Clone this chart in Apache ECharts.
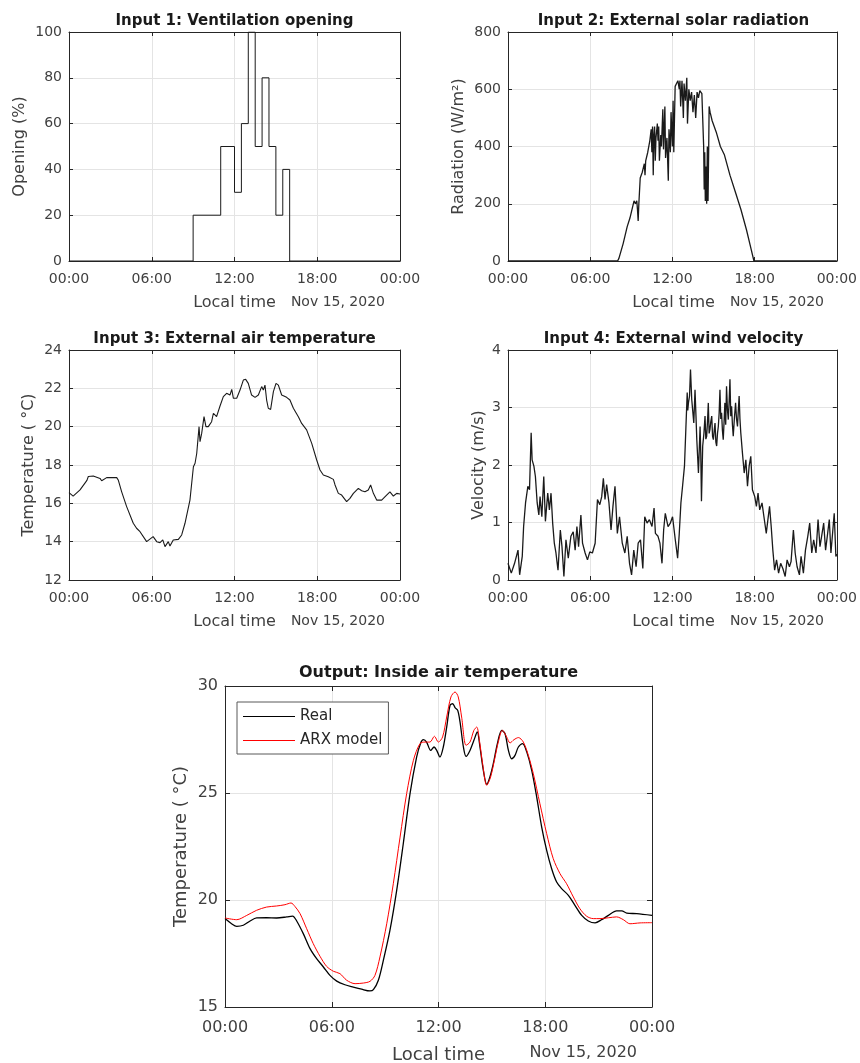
<!DOCTYPE html>
<html>
<head>
<meta charset="utf-8">
<script src="https://cdn.jsdelivr.net/npm/echarts@6/dist/echarts.min.js"></script>
<style>html,body{margin:0;padding:0;background:#fff}#c{width:860px;height:1063px}</style>
</head>
<body>
<div id="c"></div>
<script>
// ---------- DATA (hours of day, values) ----------
const xTicks = ['00:00', '06:00', '12:00', '18:00', '00:00'];

const ventHours   = [0, 9, 11, 12, 12.5, 13, 13.5, 14, 14.5, 15, 15.5, 16, 24];
const ventOpening = [0, 20, 50, 30, 60, 100, 50, 80, 50, 20, 40, 0, 0];

const radiation = [
  [0,0],[8.0,0],[8.1,10],[8.4,60],[8.7,120],[8.9,150],[9.0,145],[9.1,190],[9.2,210],[9.3,200],
  [9.4,210],[9.45,180],[9.5,140],[9.55,200],[9.65,290],[9.8,310],[9.95,340],[10.0,300],[10.05,350],
  [10.2,380],[10.35,420],[10.45,460],[10.5,380],[10.55,470],[10.6,300],[10.65,440],[10.7,470],
  [10.75,350],[10.8,430],[10.9,480],[10.95,420],[11.0,470],[11.05,350],[11.15,440],[11.2,400],
  [11.3,530],[11.35,390],[11.45,540],[11.5,360],[11.6,430],[11.7,280],[11.75,460],[11.85,380],
  [11.9,520],[12.0,400],[12.05,560],[12.1,380],[12.2,610],[12.3,620],[12.4,630],[12.5,600],
  [12.55,630],[12.6,540],[12.7,630],[12.8,500],[12.85,620],[12.95,560],[13.05,640],[13.1,480],
  [13.2,600],[13.3,560],[13.4,590],[13.5,520],[13.6,580],[13.7,500],[13.8,590],[13.9,570],
  [14.0,595],[14.15,585],[14.25,580],[14.28,400],[14.32,250],[14.36,380],[14.4,210],[14.45,330],
  [14.5,200],[14.55,400],[14.6,210],[14.65,400],[14.68,540],[14.75,520],[14.9,490],[15.2,450],
  [15.5,400],[15.8,370],[16.2,300],[16.6,240],[17.0,180],[17.4,110],[17.7,50],[17.95,0],[24,0]
];

const extTemp = [
  [0,16.56],[0.3,16.38],[0.8,16.7],[1.3,17.2],[1.4,17.4],[1.76,17.43],[2.25,17.3],[2.37,17.18],
  [2.73,17.34],[3.46,17.34],[3.58,17.2],[3.82,16.6],[4.18,15.83],[4.66,14.96],[4.9,14.7],
  [5.15,14.52],[5.63,14.0],[6.1,14.26],[6.2,14.26],[6.36,14.0],[6.6,13.95],[6.8,14.09],[6.96,13.74],
  [7.2,14.0],[7.32,13.77],[7.56,14.09],[7.93,14.12],[8.17,14.35],[8.41,14.96],[8.77,16.17],
  [9.02,17.91],[9.14,18.09],[9.26,18.6],[9.43,20.0],[9.5,19.22],[9.62,19.65],[9.79,20.52],
  [9.93,20.0],[10.1,20.0],[10.34,20.26],[10.47,20.7],[10.7,20.52],[10.95,21.08],[11.19,21.57],
  [11.43,21.74],[11.67,21.65],[11.8,21.95],[11.92,21.48],[12.16,21.48],[12.4,21.91],[12.64,22.43],
  [12.81,22.47],[13.0,22.26],[13.24,21.65],[13.49,21.53],[13.73,21.65],[13.97,22.09],[14.09,21.91],
  [14.21,22.17],[14.33,21.39],[14.45,20.96],[14.62,20.9],[14.82,21.83],[15.01,22.26],[15.18,22.17],
  [15.42,21.65],[15.78,21.53],[16.02,21.39],[16.27,20.96],[16.63,20.52],[16.87,20.17],[17.23,19.83],
  [17.6,19.13],[17.96,18.26],[18.2,17.74],[18.44,17.48],[18.8,17.39],[19.17,17.25],[19.29,16.96],
  [19.53,16.52],[19.77,16.43],[20.13,16.09],[20.37,16.26],[20.62,16.52],[20.98,16.78],[21.22,16.66],
  [21.46,16.6],[21.7,16.7],[21.87,16.96],[22.07,16.52],[22.31,16.17],[22.67,16.17],[23.03,16.43],
  [23.27,16.6],[23.52,16.38],[23.76,16.52],[24,16.49]
];

const windVel = [
  [0,0.29],[0.24,0.12],[0.48,0.29],[0.73,0.52],[0.85,0.09],[1.04,0.41],[1.14,0.93],[1.28,1.34],
  [1.45,1.63],[1.57,1.57],[1.69,2.56],[1.76,2.09],[1.89,1.98],[2.0,1.8],[2.13,1.34],[2.25,1.13],
  [2.34,1.45],[2.47,1.10],[2.61,1.80],[2.73,1.02],[2.9,1.51],[3.02,1.22],[3.14,1.51],[3.26,0.99],
  [3.38,0.64],[3.5,0.47],[3.65,0.17],[3.82,0.87],[3.94,0.58],[4.08,0.06],[4.23,0.70],[4.4,0.38],
  [4.59,0.76],[4.76,0.84],[4.9,0.52],[5.03,0.93],[5.15,0.58],[5.32,1.13],[5.44,0.64],[5.63,0.47],
  [5.8,0.35],[5.97,0.49],[6.16,0.47],[6.36,0.64],[6.53,1.40],[6.7,1.31],[6.84,1.45],[6.96,1.77],
  [7.08,1.40],[7.2,1.66],[7.37,1.34],[7.52,0.87],[7.66,1.28],[7.81,1.63],[7.98,0.81],[8.14,1.10],
  [8.34,0.64],[8.53,0.47],[8.7,0.76],[8.87,0.29],[9.02,0.09],[9.18,0.52],[9.35,0.23],[9.5,0.64],
  [9.67,0.70],[9.84,0.20],[9.98,1.10],[10.15,0.99],[10.32,1.05],[10.51,0.93],[10.66,1.25],
  [10.76,0.81],[10.95,0.76],[11.09,0.64],[11.24,0.29],[11.36,0.87],[11.48,1.16],[11.68,0.93],
  [11.85,0.99],[12.01,1.10],[12.21,0.70],[12.38,0.38],[12.5,0.81],[12.62,1.34],[12.74,1.63],
  [12.88,1.98],[12.98,2.62],[13.08,3.26],[13.12,2.95],[13.17,3.08],[13.25,3.2],[13.32,3.66],[13.41,3.14],
  [13.48,2.95],[13.56,2.73],[13.65,3.31],[13.72,2.85],[13.78,2.44],[13.84,2.15],[13.9,1.86],[14.02,2.67],
  [14.07,2.2],[14.12,1.37],[14.21,2.33],[14.3,2.55],[14.38,2.85],[14.44,2.45],[14.5,2.5],[14.56,2.75],
  [14.62,3.08],[14.68,2.55],[14.74,2.62],[14.8,2.75],[14.87,2.85],[14.93,2.5],[14.99,2.44],
  [15.05,2.6],[15.11,2.73],[15.17,2.4],[15.23,2.33],[15.29,2.55],[15.35,2.67],[15.41,2.9],
  [15.47,3.31],[15.53,2.8],[15.59,2.91],[15.65,2.6],[15.71,2.44],[15.77,2.75],[15.83,3.08],
  [15.89,2.7],[15.95,3.37],[16.02,2.95],[16.08,2.79],[16.14,3.1],[16.2,3.49],[16.26,2.85],
  [16.32,3.02],[16.38,2.7],[16.44,2.5],[16.52,2.8],[16.61,3.08],[16.68,2.8],[16.75,2.67],
  [16.81,2.95],[16.87,3.2],[16.93,2.8],[16.99,2.56],
  [17.11,2.21],[17.24,1.86],[17.36,2.09],[17.48,1.63],[17.6,1.98],[17.72,2.15],[17.84,1.57],
  [18.01,1.45],[18.13,1.28],[18.25,1.51],[18.37,1.22],[18.54,1.34],[18.68,1.10],[18.85,0.81],
  [18.97,1.05],[19.09,1.28],[19.21,0.93],[19.33,0.52],[19.46,0.17],[19.6,0.35],[19.75,0.12],
  [19.9,0.29],[20.06,0.20],[20.23,0.06],[20.37,0.35],[20.54,0.23],[20.66,0.32],[20.83,0.87],
  [20.96,0.47],[21.1,0.23],[21.27,0.09],[21.39,0.41],[21.56,0.12],[21.71,0.52],[21.88,0.76],
  [22.02,0.99],[22.17,0.47],[22.31,0.70],[22.48,0.47],[22.63,1.05],[22.77,0.58],[22.89,0.76],
  [23.04,0.99],[23.18,0.52],[23.33,0.81],[23.45,1.05],[23.57,0.47],[23.71,0.87],[23.81,1.16],
  [23.93,0.41],[24,0.45]
];

const insideReal = [
  [0,19.13],[0.37,18.89],[0.66,18.77],[1.03,18.82],[1.41,19.02],[1.78,19.16],[2.34,19.17],[2.9,19.16],
  [3.47,19.21],[3.8,19.25],[4.03,19.02],[4.4,18.43],[4.78,17.73],[5.15,17.26],[5.53,16.87],[5.9,16.48],
  [6.28,16.21],[6.74,16.04],[7.21,15.93],[7.68,15.83],[8.15,15.75],[8.34,15.81],[8.62,16.25],
  [8.9,17.18],[9.27,18.58],[9.65,20.45],[10.02,22.63],[10.4,24.97],[10.77,26.68],[11.0,27.34],
  [11.15,27.49],[11.33,27.38],[11.56,26.99],[11.75,27.15],[11.9,26.99],[12.08,26.68],[12.27,27.15],
  [12.46,28.08],[12.65,29.1],[12.8,29.17],[12.93,28.99],[13.08,28.86],[13.21,28.32],[13.4,27.15],
  [13.55,26.71],[13.77,26.99],[13.99,27.46],[14.18,27.85],[14.33,27.15],[14.52,26.06],[14.71,25.4],
  [14.89,25.75],[15.08,26.37],[15.31,27.31],[15.55,27.93],[15.74,27.77],[15.93,26.99],[16.11,26.6],
  [16.3,26.76],[16.49,27.15],[16.73,27.31],[16.96,26.92],[17.24,26.06],[17.52,24.81],[17.8,23.41],
  [18.08,22.32],[18.36,21.46],[18.64,20.84],[18.92,20.53],[19.3,20.22],[19.67,19.75],[20.05,19.28],
  [20.42,19.02],[20.8,18.93],[21.17,19.08],[21.55,19.28],[22.01,19.49],[22.3,19.49],[22.58,19.39],
  [23.14,19.36],[24,19.28]
];

const insideModel = [
  [0,19.16],[0.66,19.08],[1.22,19.28],[1.78,19.52],[2.34,19.67],[2.9,19.72],[3.37,19.78],[3.71,19.86],
  [3.93,19.7],[4.22,19.36],[4.59,18.66],[4.96,17.96],[5.34,17.37],[5.71,16.9],[6.09,16.67],[6.46,16.56],
  [6.84,16.25],[7.31,16.09],[7.78,16.12],[8.15,16.2],[8.43,16.48],[8.71,17.34],[9.09,18.89],[9.46,20.76],
  [9.84,22.94],[10.21,24.97],[10.59,26.53],[10.96,27.31],[11.24,27.38],[11.52,27.38],[11.77,27.65],
  [11.99,27.38],[12.23,27.62],[12.46,28.55],[12.7,29.49],[12.93,29.72],[13.11,29.49],[13.3,28.55],
  [13.55,27.23],[13.77,27.38],[13.99,27.93],[14.15,28.08],[14.3,27.46],[14.48,26.37],[14.71,25.36],
  [14.93,25.75],[15.18,26.68],[15.36,27.38],[15.59,27.93],[15.83,27.62],[16.02,27.34],[16.24,27.49],
  [16.49,27.59],[16.77,27.38],[17.05,26.76],[17.33,25.9],[17.7,24.5],[18.08,23.1],[18.45,21.93],
  [18.83,21.23],[19.2,20.76],[19.58,20.14],[19.95,19.59],[20.33,19.24],[20.7,19.13],[21.08,19.13],
  [21.55,19.17],[22.01,19.21],[22.39,19.08],[22.76,18.89],[23.33,18.93],[24,18.94]
];

// ---------- LAYOUT ----------
const FONT = 'DejaVu Sans';
const AX = '#262626';
const GRID_C = '#e4e4e4';
const grids = [
  {left:69,  top:32,  width:331, height:229},
  {left:508, top:32,  width:331, height:229},
  {left:69,  top:350, width:331, height:230},
  {left:508, top:350, width:331, height:230},
  {left:225, top:686, width:427, height:321}
];
const yCfg = [
  {min:0, max:100, interval:20, name:'Opening (%)', gap:41},
  {min:0, max:800, interval:200, name:'Radiation (W/m²)', gap:41},
  {min:12, max:24, interval:2, name:'Temperature ( °C)', gap:32},
  {min:0, max:4, interval:1, name:'Velocity (m/s)', gap:21},
  {min:15, max:30, interval:5, name:'Temperature ( °C)', gap:35}
];
const titles = ['Input 1: Ventilation opening','Input 2: External solar radiation',
  'Input 3: External air temperature','Input 4: External wind velocity','Output: Inside air temperature'];

const xAxis = [], yAxis = [], graphic = [];
grids.forEach((g, i) => {
  const big = i === 4;
  const tickFs = big ? 16 : 14;
  const common = {
    gridIndex: i, type: 'value',
    axisLine: {show: true, onZero: false, lineStyle: {color: AX, width: 1}},
    axisTick: {show: true, inside: true, length: big ? 5 : 4, lineStyle: {color: AX}}
  };
  xAxis.push(Object.assign({}, common, {
    position: 'bottom', min: 0, max: 24, interval: 6,
    axisLabel: {fontFamily: FONT, fontSize: tickFs, color: '#404040', margin: big ? 13 : 11,
      formatter: v => xTicks[Math.round(v / 6)]},
    splitLine: {show: true, lineStyle: {color: GRID_C, width: 1}}
  }));
  xAxis.push(Object.assign({}, common, {
    position: 'top', min: 0, max: 24, interval: 6,
    axisLabel: {show: false}, splitLine: {show: false}
  }));
  const yc = yCfg[i];
  yAxis.push(Object.assign({}, common, {
    position: 'left', min: yc.min, max: yc.max, interval: yc.interval,
    name: yc.name, nameLocation: 'middle', nameGap: yc.gap,
    nameTextStyle: {fontFamily: FONT, fontSize: big ? 18 : 16, color: '#404040'},
    axisLabel: {fontFamily: FONT, fontSize: tickFs, color: '#404040', margin: 7},
    splitLine: {show: true, lineStyle: {color: GRID_C, width: 1}}
  }));
  yAxis.push(Object.assign({}, common, {
    position: 'right', min: yc.min, max: yc.max, interval: yc.interval,
    axisLabel: {show: false}, splitLine: {show: false}
  }));
  const cx = g.left + g.width / 2;
  const bottom = g.top + g.height;
  graphic.push({type: 'text', x: cx, y: g.top - (big ? 13 : 11), style: {text: titles[i],
    font: 'bold ' + (big ? 16 : 15) + 'px ' + FONT, fill: '#1a1a1a', textAlign: 'center', textVerticalAlign: 'middle'}});
  graphic.push({type: 'text', x: cx, y: bottom + (big ? 48 : 42), style: {text: 'Local time',
    font: (big ? 18 : 16) + 'px ' + FONT, fill: '#404040', textAlign: 'center', textVerticalAlign: 'middle'}});
  graphic.push({type: 'text', x: g.left + g.width - 15, y: bottom + (big ? 46 : 41), style: {text: 'Nov 15, 2020',
    font: (big ? 16 : 14) + 'px ' + FONT, fill: '#404040', textAlign: 'right', textVerticalAlign: 'middle'}});
});

const ventData = ventHours.map((h, k) => [h, ventOpening[k]]);
function line(name, gi, data, color, width, extra) {
  return Object.assign({
    name, type: 'line', xAxisIndex: gi * 2, yAxisIndex: gi * 2, data,
    symbol: 'none', animation: false,
    lineStyle: {color, width}, itemStyle: {color}
  }, extra || {});
}

const LEG_ICON = 'path://M0,0H52V1.2H0Z';
const option = {
  backgroundColor: '#fff',
  animation: false,
  grid: grids,
  xAxis, yAxis, graphic,
  legend: {
    data: [{name: 'Real', icon: LEG_ICON}, {name: 'ARX model', icon: LEG_ICON}],
    orient: 'vertical', left: 237, top: 702,
    itemWidth: 52, itemHeight: 14, itemGap: 9, padding: [7, 6, 6, 6],
    backgroundColor: '#fff', borderColor: '#595959', borderWidth: 1, borderRadius: 0,
    textStyle: {fontFamily: FONT, fontSize: 15, color: '#262626'}
  },
  series: [
    line('vent', 0, ventData, '#1a1a1a', 1, {step: 'end'}),
    line('rad', 1, radiation, '#1a1a1a', 1.3),
    line('temp', 2, extTemp, '#1a1a1a', 1.1),
    line('wind', 3, windVel, '#1a1a1a', 1.3),
    line('Real', 4, insideReal, '#000000', 1.3, {smooth: 0.3}),
    line('ARX model', 4, insideModel, '#ff0000', 1, {smooth: 0.3})
  ]
};
const chart = echarts.init(document.getElementById('c'), null, {renderer: 'canvas'});
chart.setOption(option);
</script>
</body>
</html>
